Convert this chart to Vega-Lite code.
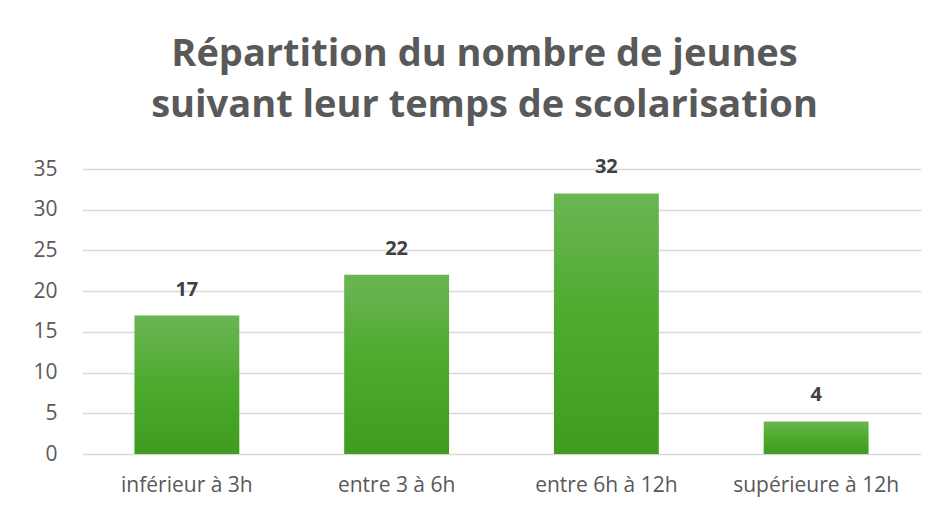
{
  "$schema": "https://vega.github.io/schema/vega-lite/v6.json",
  "autosize": {"type": "none"},
  "width": 839,
  "height": 285,
  "padding": {"left": 82, "top": 169, "right": 14, "bottom": 55},
  "background": "white",
  "title": {
    "text": ["Répartition du nombre de jeunes", "suivant leur temps de scolarisation"],
    "font": "Open Sans",
    "fontSize": 38,
    "fontWeight": "bold",
    "color": "#595959",
    "anchor": "middle",
    "lineHeight": 51,
    "offset": 32,
    "dx": -17
  },
  "data": {
    "values": [
      {"categorie": "inférieur à 3h", "jeunes": 17},
      {"categorie": "entre 3 à 6h", "jeunes": 22},
      {"categorie": "entre 6h à 12h", "jeunes": 32},
      {"categorie": "supérieure à 12h", "jeunes": 4}
    ]
  },
  "encoding": {
    "x": {
      "field": "categorie",
      "type": "nominal",
      "sort": null,
      "scale": {"paddingInner": 0.5, "paddingOuter": 0.25},
      "axis": {
        "title": null,
        "labelAngle": 0,
        "labelFont": "Open Sans",
        "labelFontSize": 21,
        "labelColor": "#595959",
        "labelPadding": 20,
        "domain": false,
        "ticks": false
      }
    },
    "y": {
      "field": "jeunes",
      "type": "quantitative",
      "scale": {"domain": [0, 35], "nice": false},
      "axis": {
        "title": null,
        "values": [0, 5, 10, 15, 20, 25, 30, 35],
        "labelFont": "Open Sans",
        "labelFontSize": 21,
        "labelColor": "#595959",
        "labelPadding": 25,
        "domain": false,
        "ticks": false,
        "gridColor": "#d9d9d9",
        "gridWidth": 1.3
      }
    }
  },
  "layer": [
    {
      "mark": {
        "type": "bar",
        "color": {
          "gradient": "linear",
          "x1": 0, "y1": 0, "x2": 0, "y2": 1,
          "stops": [
            {"offset": 0, "color": "#6bb554"},
            {"offset": 0.5, "color": "#4caa2c"},
            {"offset": 1, "color": "#3f9c20"}
          ]
        }
      }
    },
    {
      "mark": {
        "type": "text",
        "font": "Open Sans",
        "fontSize": 20,
        "fontWeight": "bold",
        "color": "#404040",
        "baseline": "middle",
        "dy": -26
      },
      "encoding": {"text": {"field": "jeunes", "type": "quantitative"}}
    }
  ],
  "config": {"view": {"stroke": null}}
}
